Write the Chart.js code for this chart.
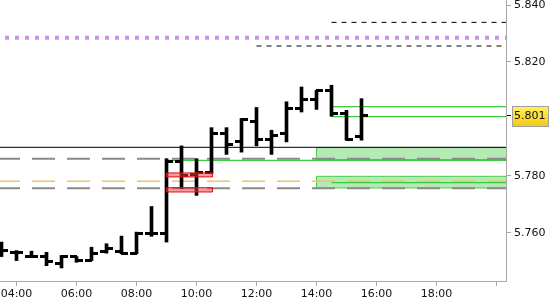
<!DOCTYPE html>
<html>
<head>
<meta charset="utf-8">
<script src="https://cdn.jsdelivr.net/npm/chart.js@4.4.1/dist/chart.umd.min.js"></script>
<style>
  body { margin: 0; background: #fff; }
</style>
</head>
<body>
<canvas id="myChart" width="550" height="300"></canvas>
<script>
// 30 minute OHLC bars
let times = ['03:30','04:00','04:30','05:00','05:30','06:00','06:30','07:00','07:30','08:00','08:30','09:00','09:30',
             '10:00','10:30','11:00','11:30','12:00','12:30','13:00','13:30','14:00','14:30','15:00','15:30']
let opens  = [5.7537,5.7529,5.7517,5.7517,5.7490,5.7516,5.7503,5.7535,5.7534,5.7528,5.7598,5.7596,5.7851,
              5.7804,5.7810,5.7948,5.7919,5.7989,5.7927,5.7950,5.8036,5.8068,5.8098,5.8019,5.7939]
let highs  = [5.7567,5.7537,5.7535,5.7531,5.7520,5.7516,5.7549,5.7561,5.7588,5.7602,5.7692,5.7860,5.7905,
              5.7860,5.7969,5.7969,5.8001,5.8040,5.7960,5.8060,5.8112,5.8100,5.8118,5.8030,5.8071]
let lows   = [5.7516,5.7502,5.7516,5.7484,5.7476,5.7496,5.7502,5.7528,5.7526,5.7526,5.7587,5.7567,5.7755,
              5.7731,5.7807,5.7875,5.7883,5.7905,5.7875,5.7919,5.8024,5.8033,5.8009,5.7925,5.7925]
let closes = [5.7537,5.7529,5.7517,5.7499,5.7516,5.7502,5.7528,5.7543,5.7528,5.7598,5.7598,5.7851,5.7801,
              5.7810,5.7948,5.7911,5.7999,5.7927,5.7940,5.8036,5.8068,5.8100,5.8019,5.7927,5.8010]

let lastPrice = 5.801

// horizontal levels
let levelNames  = ['pivot','resHigh','resLow','green1','green2','dayClose','grayA','green3','orange','grayB','green4']
let levelPrices = [5.8285, 5.8339, 5.8256, 5.8043, 5.8008, 5.7900, 5.7860, 5.7854, 5.7781, 5.7756, 5.7776]
let levelStart  = ['03:27','14:30','12:00','14:30','14:30','03:27','03:27','09:00','03:27','03:27','14:30']

// zones
let zoneNames  = ['greenA','greenB','redA','redB']
let zoneFrom   = ['14:00','14:00','09:00','09:00']
let zoneTo     = ['20:20','20:20','10:32','10:32']
let zoneTop    = [5.7899, 5.7798, 5.7810, 5.7758]
let zoneBottom = [5.7857, 5.7757, 5.7796, 5.7743]

let xTicks = ['04:00','06:00','08:00','10:00','12:00','14:00','16:00','18:00','20:00']
let yTicks = [5.76, 5.78, 5.801, 5.82, 5.84]

function hrs(t) { let p = t.split(':'); return +p[0] + p[1] / 60 }

const xMin = 3.45, xMax = 20.3167
const yMin = 5.74302, yMax = 5.84176

const levelStyle = {
  pivot:    { color: '#c992e2', width: 4, dash: [4, 6], offset: 5 },
  resHigh:  { color: '#000', width: 1, dash: [5, 5] },
  resLow:   { color: '#000', width: 1, dash: [5, 5] },
  green1:   { color: '#3cc83c', width: 1.3 },
  green2:   { color: '#3cc83c', width: 1.3 },
  dayClose: { color: '#000', width: 1 },
  grayA:    { color: '#8a8a8a', width: 2, dash: [23, 12], offset: 3, order: 7 },
  green3:   { color: '#3cc83c', width: 1.3 },
  orange:   { color: '#f2c265', width: 1.5, dash: [23, 12], offset: 3 },
  grayB:    { color: '#8a8a8a', width: 2, dash: [23, 12], offset: 3, order: 7 },
  green4:   { color: '#3cc83c', width: 1.3 }
}
const zoneStyle = {
  greenA: { fill: 'rgba(60,200,60,0.38)', line: '#50c850', order: 10 },
  greenB: { fill: 'rgba(60,200,60,0.38)', line: '#50c850', order: 10 },
  redA:   { fill: 'rgba(238,60,60,0.5)', line: '#e01010', order: 3 },
  redB:   { fill: 'rgba(238,60,60,0.5)', line: '#e01010', order: 3 }
}

// open tick on the left, close tick on the right
function tickImg(side) {
  const c = document.createElement('canvas')
  c.width = 13; c.height = 3
  const g = c.getContext('2d')
  g.fillStyle = '#000'
  if (side === 'left') g.fillRect(0, 0, 7, 3)
  else g.fillRect(6, 0, 7, 3)
  return c
}

function graficaVelas() {
  const datasets = []

  datasets.push({
    type: 'bar',
    data: times.map((t, i) => ({ x: hrs(t), y: [lows[i], highs[i]] })),
    backgroundColor: '#000',
    borderWidth: 0,
    barThickness: 3,
    order: 5
  })
  datasets.push({
    type: 'line', showLine: false,
    data: times.map((t, i) => ({ x: hrs(t), y: opens[i] })),
    pointStyle: tickImg('left'), pointRadius: 3, order: 4
  })
  datasets.push({
    type: 'line', showLine: false,
    data: times.map((t, i) => ({ x: hrs(t), y: closes[i] })),
    pointStyle: tickImg('right'), pointRadius: 3, order: 4
  })

  levelNames.forEach((n, i) => {
    const s = levelStyle[n]
    datasets.push({
      type: 'line',
      data: [{ x: hrs(levelStart[i]), y: levelPrices[i] }, { x: xMax, y: levelPrices[i] }],
      borderColor: s.color, borderWidth: s.width,
      borderDash: s.dash || [], borderDashOffset: s.offset || 0,
      pointRadius: 0, fill: false, order: s.order || 8
    })
  })

  zoneNames.forEach((n, i) => {
    const s = zoneStyle[n]
    const x0 = hrs(zoneFrom[i]), x1 = hrs(zoneTo[i])
    datasets.push({
      type: 'line',
      data: [{ x: x0, y: zoneTop[i] }, { x: x1, y: zoneTop[i] }],
      borderWidth: 0, pointRadius: 0,
      fill: { value: zoneBottom[i] }, backgroundColor: s.fill,
      order: s.order
    })
    datasets.push({
      type: 'line',
      data: [{ x: x0, y: zoneTop[i] }, { x: x1, y: zoneTop[i] }, { x: x1, y: zoneBottom[i] },
             { x: x0, y: zoneBottom[i] }, { x: x0, y: zoneTop[i] }],
      borderColor: s.line, borderWidth: 1, pointRadius: 0, fill: false,
      order: s.order - 1
    })
  })

  const priceBox = {
    id: 'priceBox',
    beforeDraw(chart) {
      const ctx = chart.ctx
      const y = Math.round(chart.scales.y.getPixelForValue(lastPrice))
      const left = chart.chartArea.right + 6.5, top = y - 9.5
      const grad = ctx.createLinearGradient(0, top, 0, top + 20)
      grad.addColorStop(0, '#fff25c')
      grad.addColorStop(1, '#f7c812')
      ctx.save()
      ctx.fillStyle = grad
      ctx.fillRect(left, top, 36, 20)
      ctx.strokeStyle = '#a0a0a0'
      ctx.lineWidth = 1
      ctx.strokeRect(left, top, 36, 20)
      ctx.restore()
    }
  }

  const font = { family: 'DejaVu Sans', size: 11 }

  new Chart(document.getElementById('myChart'), {
    type: 'bar',
    data: { datasets },
    plugins: [priceBox],
    options: {
      responsive: false,
      animation: false,
      events: [],
      layout: { padding: 0, autoPadding: false },
      plugins: { legend: { display: false }, tooltip: { enabled: false } },
      scales: {
        x: {
          type: 'linear', min: xMin, max: xMax, offset: false,
          afterBuildTicks: s => { s.ticks = xTicks.map(t => ({ value: hrs(t) })) },
          afterFit: s => { s.height = 19; s.paddingLeft = 0; s.paddingRight = 0 },
          grid: { drawOnChartArea: false, offset: false, tickLength: 5, color: '#a8a8a8' },
          border: { color: '#a8a8a8' },
          ticks: {
            autoSkip: false, maxRotation: 0, padding: 2, color: '#111', font,
            callback: (v, i) => v < 19 ? xTicks[i] : ''
          }
        },
        y: {
          type: 'linear', position: 'right', min: yMin, max: yMax,
          afterBuildTicks: s => { s.ticks = yTicks.map(v => ({ value: v })) },
          afterFit: s => { s.width = 44; s.paddingTop = 0; s.paddingBottom = 0 },
          grid: {
            drawOnChartArea: false, tickLength: 5, color: '#a8a8a8',
            tickColor: c => c.tick && c.tick.value === lastPrice ? '#000' : '#a8a8a8'
          },
          border: { color: '#a8a8a8' },
          ticks: { autoSkip: false, padding: 3, color: '#111', font, callback: v => v.toFixed(3) }
        }
      }
    }
  })
}

graficaVelas()
</script>
</body>
</html>
